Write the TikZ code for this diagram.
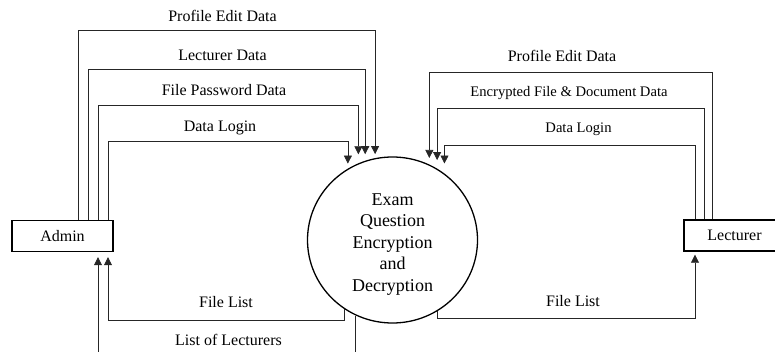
\documentclass[tikz,border=0pt]{standalone}
\usepackage{fontspec}
\setmainfont{Liberation Serif}
\usetikzlibrary{arrows.meta,shapes.geometric}
\begin{document}
\begin{tikzpicture}[x=1pt,y=-1pt,
  ent/.style={draw,line width=1.4pt,minimum width=101pt,minimum height=31pt,inner sep=0pt,font=\fontsize{16}{19}\selectfont},
  flow/.style={draw=black!85,line width=0.7pt,-{Triangle[length=8pt,width=8pt]}},
  lbl/.style={font=\fontsize{16}{19}\selectfont,anchor=base,inner sep=0pt},
  slbl/.style={font=\fontsize{14.6}{17}\selectfont,anchor=base,inner sep=0pt},
]
\useasboundingbox (0,0) rectangle (775,352);
\clip (0,0) rectangle (775,352);

% entities and process
\node[ent] (admin) at (62.5,236) {Admin};
\node[ent] (lect) at (734.5,235.5) {Lecturer};
\node[draw,ellipse,line width=1.3pt,minimum width=170pt,minimum height=166pt,inner sep=0pt] (proc) at (392.5,240) {};
\node[font=\fontsize{18}{21.5}\selectfont,align=center,inner sep=0pt] (ptxt) at (392.5,244.5) {Exam\\Question\\Encryption\\and\\Decryption};

% left flows into process
\draw[flow,shorten >=4pt] ([xshift=15.5pt]admin.north) -- ++(0,-189) -| (proc.102.9);
\draw[flow,shorten >=6.5pt] ([xshift=25.5pt]admin.north) -- ++(0,-150) -| (proc.109.3);
\draw[flow,shorten >=9pt] ([xshift=35.5pt]admin.north) -- ++(0,-114) -| (proc.114.4);
\draw[flow,shorten >=5pt] ([xshift=45.5pt]admin.north) -- ++(0,-78) -| (proc.122.2);

% right flows into process
\draw[flow,shorten >=6.5pt] ([xshift=-22.5pt]lect.north) -- ++(0,-147) -| (proc.64.8);
\draw[flow,shorten >=8.5pt] ([xshift=-30.5pt]lect.north) -- ++(0,-111) -| (proc.58.6);
\draw[flow,shorten >=10pt] ([xshift=-39.5pt]lect.north) -- ++(0,-74) -| (proc.52.9);

% flows out of process
\draw[flow,shorten >=5pt] (proc.235.3) -- ++(0,11) -| ([xshift=45.5pt]admin.south);
\draw[flow,shorten >=5pt] (proc.244.8) -- ++(0,60) -| ([xshift=35.5pt]admin.south);
\draw[flow,shorten >=3pt] (proc.302.2) -- ++(0,6.5) -| ([xshift=-39.5pt]lect.south);

% labels
\node[lbl] (l1) at (222.5,22) {Profile Edit Data};
\node[lbl] (l2) at (222.5,61) {Lecturer Data};
\node[lbl] (l3) at (224,96) {File Password Data};
\node[lbl] (l4) at (220,132) {Data Login};
\node[lbl] (r1) at (562,62) {Profile Edit Data};
\node[slbl] (r2) at (569,97) {Encrypted File \& Document Data};
\node[slbl] (r3) at (578.5,133) {Data Login};
\node[lbl] (b1) at (226,307) {File List};
\node[lbl] (b2) at (228.5,345) {List of Lecturers};
\node[lbl] (b3) at (573,306) {File List};
\end{tikzpicture}
\end{document}
